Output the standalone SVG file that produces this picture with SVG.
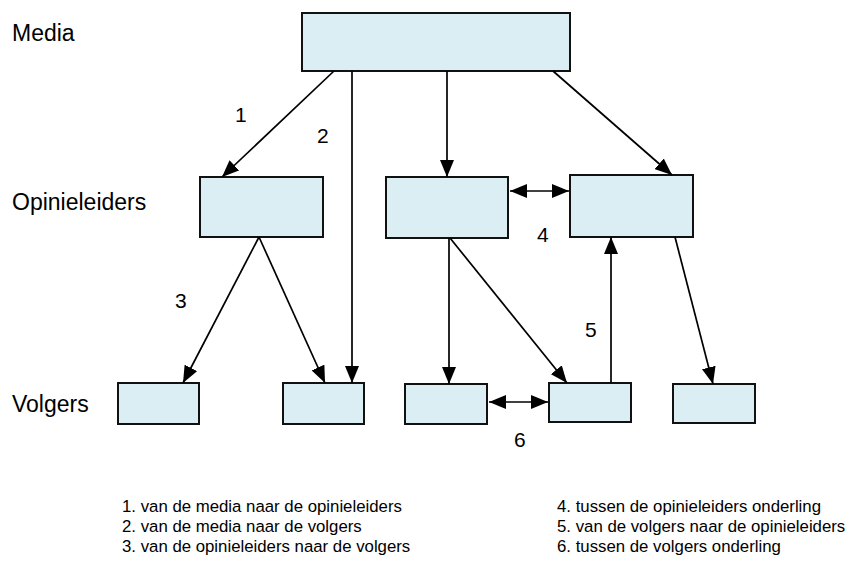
<svg xmlns="http://www.w3.org/2000/svg" width="860" height="566" viewBox="0 0 860 566">
<style>
.box{fill:#dbeef4;stroke:#111;stroke-width:2}
.lbl{font-family:"Liberation Sans",Arial,sans-serif;font-size:23px;fill:#000}
.num{font-family:"Liberation Sans",Arial,sans-serif;font-size:21px;fill:#000}
.leg{font-family:"Liberation Sans",Arial,sans-serif;font-size:16.8px;fill:#000}
.con line{stroke:#000;stroke-width:1.7;marker-end:url(#ah)}
.con line.dbl{marker-start:url(#ah)}
</style>
<defs>
<marker id="ah" markerUnits="userSpaceOnUse" markerWidth="17" markerHeight="14" refX="17" refY="7" orient="auto-start-reverse">
<path d="M0,0 L17,7 L0,14 z" fill="#000"/>
</marker>
</defs>
<rect width="860" height="566" fill="#fff"/>
<text class="lbl" x="12" y="41">Media</text>
<text class="lbl" x="12" y="210">Opinieleiders</text>
<text class="lbl" x="12" y="412">Volgers</text>
<g id="media"><rect class="box" x="302" y="13" width="268" height="58"/></g>
<g id="op1"><rect class="box" x="200" y="177" width="123" height="60"/></g>
<g id="op2"><rect class="box" x="386" y="177" width="122" height="61"/></g>
<g id="op3"><rect class="box" x="570" y="175" width="123" height="62"/></g>
<g id="v1"><rect class="box" x="118" y="383" width="81" height="41"/></g>
<g id="v2"><rect class="box" x="283" y="383" width="81" height="41"/></g>
<g id="v3"><rect class="box" x="405" y="384" width="82" height="40"/></g>
<g id="v4"><rect class="box" x="549" y="383" width="82" height="39"/></g>
<g id="v5"><rect class="box" x="673" y="384" width="82" height="39"/></g>
<g id="connectors" class="con">
<line x1="334" y1="71" x2="222" y2="177"/>
<line x1="352" y1="71" x2="352" y2="383"/>
<line x1="447" y1="71" x2="447" y2="177"/>
<line x1="553" y1="71" x2="672" y2="175"/>
<line x1="259" y1="237" x2="183" y2="383"/>
<line x1="259" y1="237" x2="325" y2="383"/>
<line x1="449" y1="238" x2="449" y2="384"/>
<line x1="450" y1="238" x2="567" y2="383"/>
<line x1="611" y1="383" x2="611" y2="237"/>
<line x1="675" y1="237" x2="713" y2="384"/>
<line class="dbl" x1="510" y1="191" x2="569" y2="191"/>
<line class="dbl" x1="489" y1="402" x2="548" y2="402"/>
</g>
<text class="num" x="235" y="122">1</text>
<text class="num" x="317" y="143">2</text>
<text class="num" x="175" y="308">3</text>
<text class="num" x="537" y="242">4</text>
<text class="num" x="585" y="337">5</text>
<text class="num" x="514" y="447">6</text>
<text class="leg" x="122" y="512">1. van de media naar de opinieleiders</text>
<text class="leg" x="122" y="532">2. van de media naar de volgers</text>
<text class="leg" x="122" y="552">3. van de opinieleiders naar de volgers</text>
<text class="leg" x="557" y="512">4. tussen de opinieleiders onderling</text>
<text class="leg" x="557" y="532">5. van de volgers naar de opinieleiders</text>
<text class="leg" x="557" y="552">6. tussen de volgers onderling</text>
</svg>
